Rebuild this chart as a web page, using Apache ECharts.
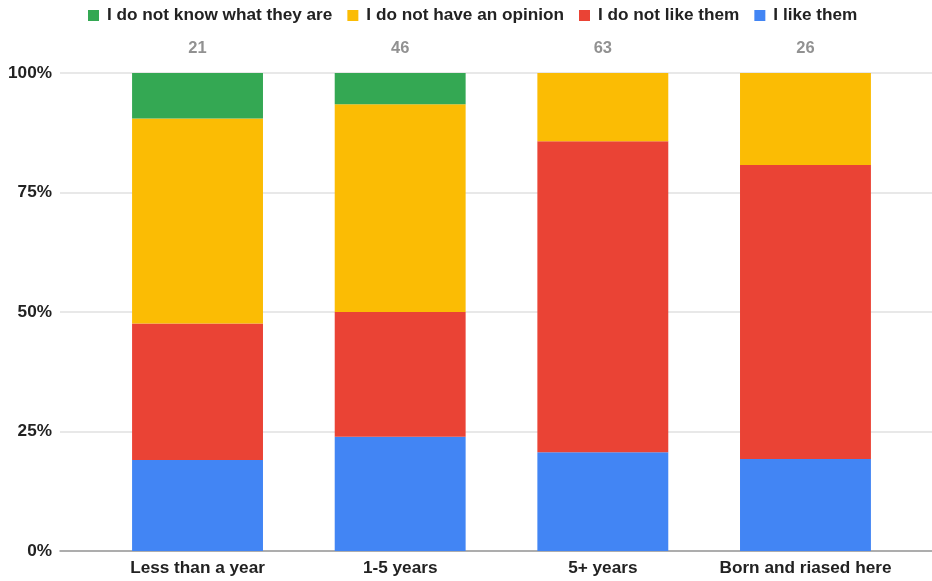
<!DOCTYPE html>
<html>
<head>
<meta charset="utf-8">
<script src="https://cdn.jsdelivr.net/npm/echarts@6/dist/echarts.min.js"></script>
<style>
  html, body { margin: 0; padding: 0; background: #fff; }
  #chart { width: 932px; height: 581px; }
</style>
</head>
<body>
<div id="chart"></div>
<script>
const categories = ['Less than a year', '1-5 years', '5+ years', 'Born and riased here'];
const likeThem = [4, 11, 13, 5];
const dislikeThem = [6, 12, 41, 16];
const noOpinion = [9, 20, 9, 5];
const dontKnow = [2, 3, 0, 0];
const totals = [21, 46, 63, 26];
const yTicks = [0, 25, 50, 75, 100];

const FONT = 'Liberation Sans, Arial, sans-serif';
const FS = 17.2;
const pct = arr => arr.map((v, i) => v / totals[i] * 100);

const chart = echarts.init(document.getElementById('chart'), null, { renderer: 'canvas' });

function barSeries(name, data, color) {
  return {
    name, type: 'bar', stack: 'all', xAxisIndex: 1, yAxisIndex: 1,
    data: pct(data), barWidth: '64.6%',
    itemStyle: { color },
    emphasis: { disabled: true }
  };
}

chart.setOption({
  animation: false,
  backgroundColor: '#ffffff',
  textStyle: { fontFamily: FONT },
  legend: {
    top: 2, left: 83,
    icon: 'rect', itemWidth: 11, itemHeight: 11, itemGap: 15,
    textStyle: { fontFamily: FONT, fontSize: FS, fontWeight: 'bold', color: '#222', padding: [0, 0, 0, 3] },
    data: ['I do not know what they are', 'I do not have an opinion', 'I do not like them', 'I like them']
  },
  grid: [
    { left: 60, right: 0, top: 73, bottom: 30 },
    { left: 96.2, right: 25.2, top: 73, bottom: 30 }
  ],
  xAxis: [
    { type: 'value', gridIndex: 0, min: 0, max: 1, position: 'bottom',
      axisLine: { show: true, lineStyle: { color: '#999', width: 1.5 } },
      axisTick: { show: false }, axisLabel: { show: false }, splitLine: { show: false } },
    { type: 'category', gridIndex: 1, data: categories,
      axisLine: { show: false }, axisTick: { show: false },
      axisLabel: { interval: 0, margin: 9, fontFamily: FONT, fontSize: FS, fontWeight: 'bold', color: '#222' } }
  ],
  yAxis: [
    { type: 'value', gridIndex: 0, min: yTicks[0], max: yTicks[yTicks.length - 1], interval: 25,
      axisLine: { show: false }, axisTick: { show: false },
      axisLabel: { margin: 8, fontFamily: FONT, fontSize: FS, fontWeight: 'bold', color: '#222',
                   formatter: '{value}%' },
      splitLine: { lineStyle: { color: '#e0e0e0', width: 1.5 } } },
    { type: 'value', gridIndex: 1, min: 0, max: 100, show: false, splitLine: { show: false } }
  ],
  series: [
    barSeries('I like them', likeThem, '#4285F4'),
    barSeries('I do not like them', dislikeThem, '#EA4335'),
    barSeries('I do not have an opinion', noOpinion, '#FBBC04'),
    barSeries('I do not know what they are', dontKnow, '#34A853'),
    {
      type: 'scatter', xAxisIndex: 1, yAxisIndex: 1,
      data: totals.map(() => 100), symbolSize: 1,
      itemStyle: { color: 'transparent' },
      label: { show: true, position: 'top', distance: 16,
               formatter: p => String(totals[p.dataIndex]),
               fontFamily: FONT, fontSize: 16.5, fontWeight: 'bold', color: '#757575' },
      emphasis: { disabled: true }, silent: true
    }
  ]
});
</script>
</body>
</html>
